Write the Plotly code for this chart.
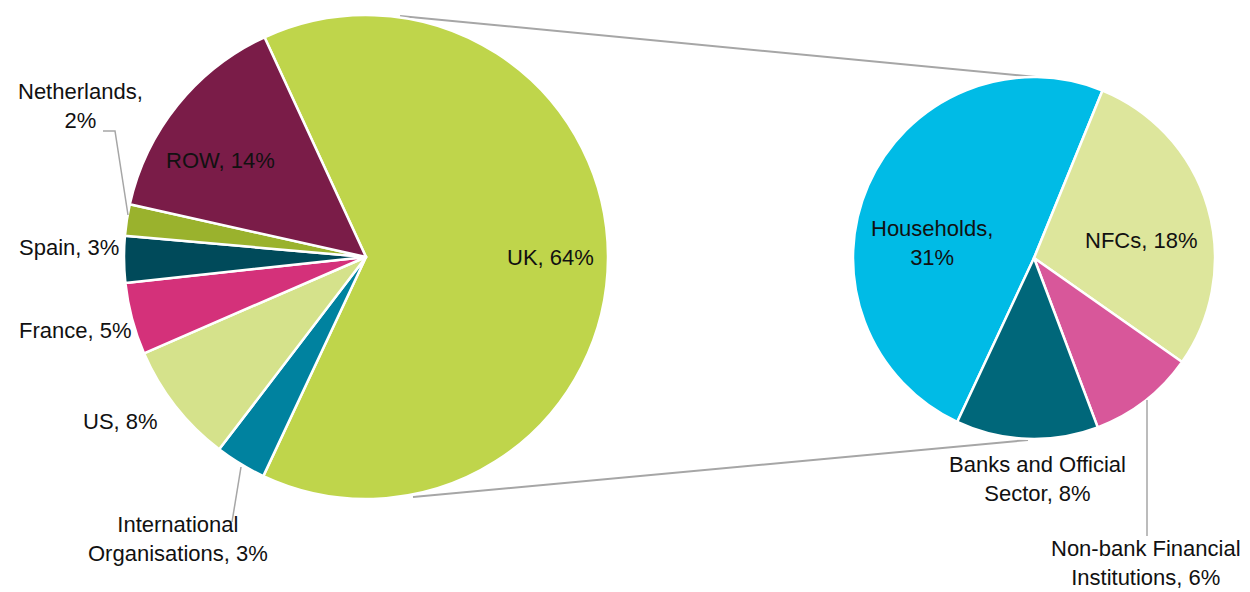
import plotly.graph_objects as go

W, H = 1250, 592

# ---- data ----
left_labels = ["UK", "International Organisations", "US", "France", "Spain", "Netherlands", "ROW"]
left_values = [63.8, 3.4, 8.1, 4.8, 3.1, 2.1, 14.6]
left_text = ["UK, 64%", "International<br>Organisations, 3%", "US, 8%", "France, 5%",
             "Spain, 3%", "Netherlands,<br>2%", "ROW, 14%"]
left_colors = ["#bfd54b", "#00829f", "#d5e28b", "#d4317a", "#004a5a", "#9ab22d", "#7a1c48"]

right_labels = ["Households", "NFCs", "Non-bank Financial Institutions", "Banks and Official Sector"]
right_values = [31, 18, 6, 8]
right_text = ["Households,<br>31%", "NFCs, 18%", "Non-bank Financial<br>Institutions, 6%",
              "Banks and Official<br>Sector, 8%"]
right_colors = ["#00bbe6", "#dde69c", "#d8579a", "#00677a"]

# ---- layout geometry (pixels) ----
L_CX, L_CY, L_R = 366, 257, 242
R_CX, R_CY, R_R = 1034, 258, 181


def px(x):
    return x / W


def py(y):
    return 1 - y / H


def dom(cx, cy, r):
    return dict(x=[px(cx - r), px(cx + r)], y=[py(cy + r), py(cy - r)])


fig = go.Figure()
fig.add_trace(go.Pie(
    labels=left_labels, values=left_values, sort=False, direction="clockwise",
    rotation=-24.8, domain=dom(L_CX, L_CY, L_R), textinfo="none",
    marker=dict(colors=left_colors, line=dict(color="white", width=2.5)),
    showlegend=False, hoverinfo="label+percent"))
fig.add_trace(go.Pie(
    labels=right_labels, values=right_values, sort=False, direction="clockwise",
    rotation=-154.9, domain=dom(R_CX, R_CY, R_R), textinfo="none",
    marker=dict(colors=right_colors, line=dict(color="white", width=2.5)),
    showlegend=False, hoverinfo="label+percent"))

# label positions (pixel centres)
left_pos = [(550, 258), (178, 539), (120, 421), (75, 330), (69, 248), (80, 106), (220, 161)]
right_pos = [(932, 243), (1141, 241), (1146, 563), (1037, 479)]

annotations = []
for t, (x, y) in zip(left_text + right_text, left_pos + right_pos):
    annotations.append(dict(text=t, x=px(x), y=py(y), xref="paper", yref="paper",
                            xanchor="center", yanchor="middle", showarrow=False,
                            font=dict(family="Liberation Sans, Arial", size=22, color="#111111")))

gray = "#a6a6a6"
shapes = [
    # connectors between the two pies
    dict(type="line", xref="paper", yref="paper", x0=px(400), y0=py(16), x1=px(1036), y1=py(77),
         line=dict(color=gray, width=2), layer="below"),
    dict(type="line", xref="paper", yref="paper", x0=px(413), y0=py(497), x1=px(1028), y1=py(440),
         line=dict(color=gray, width=2), layer="below"),
    # leader lines
    dict(type="path", xref="paper", yref="paper",
         path=f"M {px(103)} {py(131)} L {px(115)} {py(131)} L {px(128)} {py(215)}",
         line=dict(color=gray, width=1.5)),
    dict(type="line", xref="paper", yref="paper", x0=px(241), y0=py(467), x1=px(232), y1=py(522),
         line=dict(color=gray, width=1.5)),
    dict(type="line", xref="paper", yref="paper", x0=px(1147), y0=py(400), x1=px(1147), y1=py(536),
         line=dict(color=gray, width=1.5)),
]

fig.update_layout(width=W, height=H, margin=dict(l=0, r=0, t=0, b=0),
                  paper_bgcolor="white", plot_bgcolor="white",
                  annotations=annotations, shapes=shapes)

fig.write_html("out.html")
